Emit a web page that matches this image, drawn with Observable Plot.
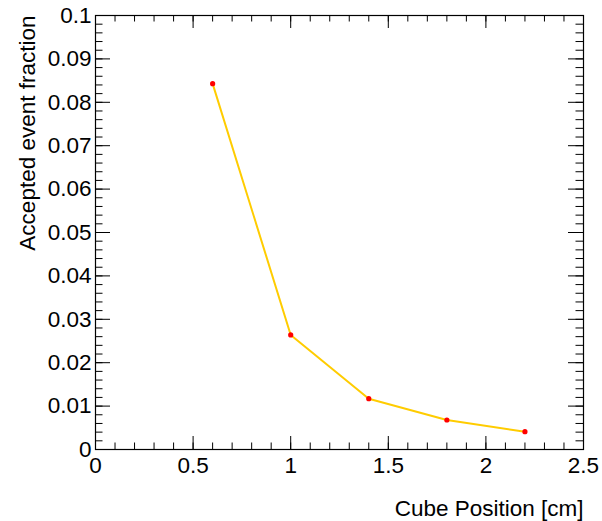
<!DOCTYPE html>
<html>
<head>
<meta charset="utf-8">
<script src="https://cdn.jsdelivr.net/npm/d3@7"></script>
<script src="https://cdn.jsdelivr.net/npm/@observablehq/plot@0.6"></script>
<style>
  html, body { margin: 0; padding: 0; background: #fff; }
  #chart svg { display: block; }
</style>
</head>
<body>
<div id="chart"></div>
<script>
// Data
const positions = [0.6, 1.0, 1.4, 1.8, 2.2];
const fractions = [0.0843, 0.0264, 0.0117, 0.0068, 0.0041];

// Tick values
const xMajorTicks = [0, 0.5, 1, 1.5, 2, 2.5];
const yMajorTicks = [0, 0.01, 0.02, 0.03, 0.04, 0.05, 0.06, 0.07, 0.08, 0.09, 0.1];
const xMinorTicks = d3.range(0, 26).map(i => i / 10);
const yMinorTicks = d3.range(0, 51).map(i => i / 500);

const xTitle = "Cube Position [cm]";
const yTitle = "Accepted event fraction";

const W = 602, H = 521;
const mL = 95, mR = 19, mT = 15, mB = 72;
const fw = W - mL - mR, fh = H - mT - mB;

const rows = positions.map((x, i) => ({x, y: fractions[i]}));

const xMajLen = 13, xMinLen = 6.5, yMajLen = 15, yMinLen = 7.5;

const chart = Plot.plot({
  width: W,
  height: H,
  marginLeft: mL,
  marginRight: mR,
  marginTop: mT,
  marginBottom: mB,
  style: {fontFamily: "'Liberation Sans', Arial, Helvetica, sans-serif", fontSize: "22px", background: "#fff", color: "#000"},
  x: {domain: [0, 2.5]},
  y: {domain: [0, 0.1]},
  marks: [
    // x ticks bottom & top
    Plot.ruleX(xMinorTicks, {x: d => d, insetTop: fh - xMinLen, stroke: "#000", strokeWidth: 1}),
    Plot.ruleX(xMajorTicks, {x: d => d, insetTop: fh - xMajLen, stroke: "#000", strokeWidth: 1}),
    Plot.ruleX(xMinorTicks, {x: d => d, insetBottom: fh - xMinLen, stroke: "#000", strokeWidth: 1}),
    Plot.ruleX(xMajorTicks, {x: d => d, insetBottom: fh - xMajLen, stroke: "#000", strokeWidth: 1}),
    // y ticks left & right
    Plot.ruleY(yMinorTicks, {y: d => d, insetRight: fw - yMinLen, stroke: "#000", strokeWidth: 1}),
    Plot.ruleY(yMajorTicks, {y: d => d, insetRight: fw - yMajLen, stroke: "#000", strokeWidth: 1}),
    Plot.ruleY(yMinorTicks, {y: d => d, insetLeft: fw - yMinLen, stroke: "#000", strokeWidth: 1}),
    Plot.ruleY(yMajorTicks, {y: d => d, insetLeft: fw - yMajLen, stroke: "#000", strokeWidth: 1}),
    Plot.axisX({ticks: xMajorTicks, tickSize: 0, tickPadding: 8, fontSize: 22.5, label: null, tickFormat: d3.format("~g")}),
    Plot.axisY({ticks: yMajorTicks, tickSize: 0, tickPadding: 4, fontSize: 22.5, label: null, tickFormat: d3.format("~g")}),
    Plot.frame({stroke: "#000", strokeWidth: 1.2}),
    Plot.line(rows, {x: "x", y: "y", stroke: "#ffcc00", strokeWidth: 2}),
    Plot.dot(rows, {x: "x", y: "y", fill: "#ff0000", r: 2.6, stroke: "none"}),
    Plot.text([xTitle], {frameAnchor: "bottom-right", dy: 66, textAnchor: "end", fontSize: 22.5, fill: "#000"}),
    Plot.text([yTitle], {frameAnchor: "top-left", dx: -76, rotate: -90, textAnchor: "end", fontSize: 22.5, fill: "#000"})
  ]
});
document.getElementById("chart").appendChild(chart);
</script>
</body>
</html>
